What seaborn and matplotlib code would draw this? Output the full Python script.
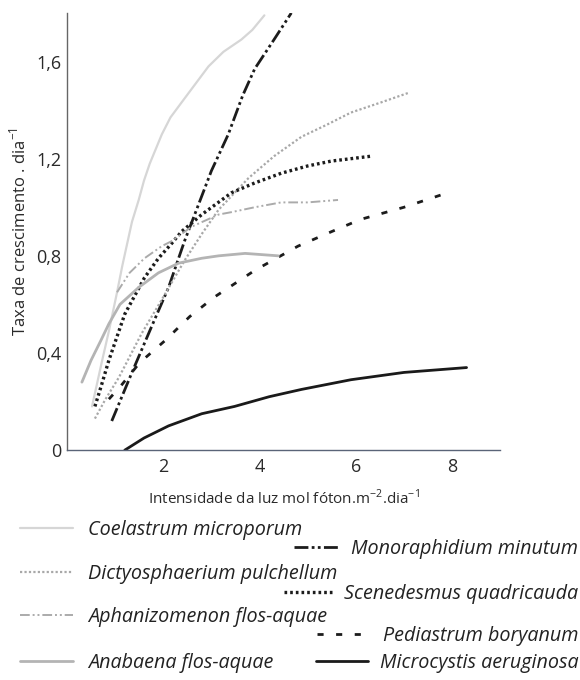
import matplotlib
matplotlib.use("Agg")
import matplotlib.pyplot as plt
import seaborn as sns

# Growth-rate curves (x: light intensity, y: growth rate per day)
coelastrum_x = [0.52, 0.72, 0.87, 1.04, 1.15, 1.25, 1.35, 1.49, 1.6, 1.72, 1.97, 2.15, 2.45, 2.94, 3.25, 3.62, 3.85, 4.1]
coelastrum_y = [0.18, 0.36, 0.49, 0.65, 0.76, 0.85, 0.94, 1.03, 1.11, 1.18, 1.30, 1.37, 1.45, 1.58, 1.64, 1.69, 1.73, 1.79]

monoraphidium_x = [0.93, 1.35, 1.76, 2.11, 2.44, 2.73, 3.0, 3.35, 3.65, 3.9, 4.3, 4.66]
monoraphidium_y = [0.12, 0.32, 0.51, 0.67, 0.86, 1.01, 1.15, 1.30, 1.46, 1.57, 1.69, 1.80]

dictyosphaerium_x = [0.58, 0.8, 1.08, 1.55, 1.97, 2.44, 2.8, 3.15, 3.77, 4.3, 4.87, 5.4, 5.9, 6.5, 7.08]
dictyosphaerium_y = [0.13, 0.21, 0.30, 0.48, 0.62, 0.78, 0.89, 0.99, 1.12, 1.21, 1.29, 1.34, 1.39, 1.43, 1.47]

scenedesmus_x = [0.58, 0.72, 0.87, 1.2, 1.61, 1.9, 2.17, 2.38, 2.8, 3.42, 3.9, 4.45, 5.0, 5.49, 6.31]
scenedesmus_y = [0.18, 0.27, 0.37, 0.56, 0.71, 0.79, 0.85, 0.90, 0.97, 1.06, 1.10, 1.14, 1.17, 1.19, 1.21]

aphanizomenon_x = [1.04, 1.3, 1.61, 1.97, 2.17, 2.59, 3.15, 3.42, 3.9, 4.45, 5.0, 5.63]
aphanizomenon_y = [0.65, 0.73, 0.79, 0.84, 0.86, 0.92, 0.97, 0.98, 1.00, 1.02, 1.02, 1.03]

pediastrum_x = [0.87, 1.1, 1.51, 2.03, 2.55, 3.06, 3.9, 4.8, 5.5, 6.1, 7.0, 7.76]
pediastrum_y = [0.21, 0.26, 0.36, 0.45, 0.55, 0.63, 0.74, 0.84, 0.90, 0.95, 1.00, 1.05]

anabaena_x = [0.31, 0.5, 0.7, 0.87, 1.1, 1.49, 1.9, 2.32, 2.8, 3.15, 3.7, 4.39]
anabaena_y = [0.28, 0.37, 0.45, 0.52, 0.60, 0.67, 0.73, 0.77, 0.79, 0.80, 0.81, 0.80]

microcystis_x = [1.2, 1.6, 2.11, 2.8, 3.48, 4.2, 4.87, 5.9, 7.0, 8.3]
microcystis_y = [0.0, 0.05, 0.10, 0.15, 0.18, 0.22, 0.25, 0.29, 0.32, 0.34]

species = [
    "Coelastrum microporum", "Monoraphidium minutum",
    "Dictyosphaerium pulchellum", "Scenedesmus quadricauda",
    "Aphanizomenon flos-aquae", "Pediastrum boryanum",
    "Anabaena flos-aquae", "Microcystis aeruginosa",
]

y_ticks = [0, 0.4, 0.8, 1.2, 1.6]
y_tick_labels = ["0", "0,4", "0,8", "1,2", "1,6"]
x_ticks = [2, 4, 6, 8]
x_tick_labels = ["2", "4", "6", "8"]

sns.set_theme(style="white")
plt.rcParams["font.family"] = ["Open Sans", "DejaVu Sans"]
plt.rcParams["mathtext.fontset"] = "custom"
plt.rcParams["mathtext.rm"] = "Open Sans"

fig = plt.figure(figsize=(5.8, 6.8), dpi=100)
ax = fig.add_axes([0.1155, 0.338, 0.747, 0.643])

series = [
    (coelastrum_x, coelastrum_y, dict(color="#d6d6d6", lw=1.6, linestyle="-")),
    (monoraphidium_x, monoraphidium_y, dict(color="#1c1c1c", lw=2.0, linestyle=(0, (5, 1.2, 1, 1.2, 1, 1.2)))),
    (dictyosphaerium_x, dictyosphaerium_y, dict(color="#a8a8a8", lw=1.6, linestyle=(0, (1, 1)))),
    (scenedesmus_x, scenedesmus_y, dict(color="#1c1c1c", lw=2.4, linestyle=(0, (0.8, 0.9)))),
    (aphanizomenon_x, aphanizomenon_y, dict(color="#ababab", lw=1.4, linestyle=(0, (5, 1.5, 1, 1.5, 1, 1.5)))),
    (pediastrum_x, pediastrum_y, dict(color="#1c1c1c", lw=2.0, linestyle=(0, (2.2, 4.5)))),
    (anabaena_x, anabaena_y, dict(color="#b4b4b4", lw=2.0, linestyle="-")),
    (microcystis_x, microcystis_y, dict(color="#1a1a1a", lw=2.0, linestyle="-")),
]

handles = []
for (xs, ys, style), name in zip(series, species):
    sns.lineplot(x=xs, y=ys, ax=ax, estimator=None, sort=False, label=name, **style)
    handles.append(ax.lines[-1])
if ax.get_legend() is not None:
    ax.get_legend().remove()

ax.set_xlim(0, 9)
ax.set_ylim(0, 1.8)
ax.set_yticks(y_ticks)
ax.set_yticklabels(y_tick_labels)
ax.set_yticks([0.2, 0.6, 1.0, 1.4], minor=True)
ax.set_xticks(x_ticks)
ax.set_xticklabels(x_tick_labels)
ax.set_xticks([1, 3, 5, 7], minor=True)
ax.tick_params(axis="both", which="major", direction="in", length=6, width=0.9,
               colors="#555555", labelcolor="#2a2a2a", labelsize=13)
ax.tick_params(axis="both", which="minor", direction="in", length=5, width=0.9, colors="#555555")
ax.tick_params(axis="y", pad=4)
ax.tick_params(axis="x", pad=6)

for side in ("top", "right"):
    ax.spines[side].set_visible(False)
ax.spines["left"].set_color("#666666")
ax.spines["bottom"].set_color("#5a6478")
ax.spines["left"].set_linewidth(1.0)
ax.spines["bottom"].set_linewidth(1.0)

ax.set_xlabel("Intensidade da luz mol fóton.m$^{-2}$.dia$^{-1}$", fontsize=11, color="#2a2a2a", labelpad=9)
ax.set_ylabel("Taxa de crescimento . dia$^{-1}$", fontsize=12, color="#2a2a2a", labelpad=5)

# Staggered two-column key beneath the plot
legend_font = dict(family=["Open Sans", "DejaVu Sans"], style="italic", size=14.2)
left_rows = [(0, 0.2206), (2, 0.156), (4, 0.0926), (6, 0.025)]
right_rows = [(1, 0.1926, 2.3), (3, 0.1265, 2.45), (5, 0.0647, 2.75), (7, 0.025, 2.65)]

for idx, yy in left_rows:
    leg = fig.legend(handles=[handles[idx]], labels=[species[idx]], loc="center left",
                     bbox_to_anchor=(0.034, yy), frameon=False, handlelength=2.7,
                     handletextpad=0.75, borderpad=0, borderaxespad=0, prop=legend_font)
    for t in leg.get_texts():
        t.set_color("#222222")
for idx, yy, hl in right_rows:
    leg = fig.legend(handles=[handles[idx]], labels=[species[idx]], loc="center right",
                     bbox_to_anchor=(0.997, yy), frameon=False, handlelength=hl,
                     handletextpad=0.6, borderpad=0, borderaxespad=0, prop=legend_font)
    for t in leg.get_texts():
        t.set_color("#222222")

fig.savefig("out.png", dpi=100, facecolor="white")
